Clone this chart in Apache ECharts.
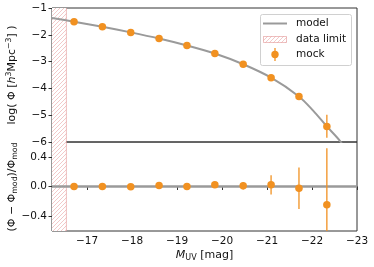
<!DOCTYPE html>
<html><head><meta charset="utf-8">
<script src="https://cdn.jsdelivr.net/npm/echarts@6/dist/echarts.min.js"></script>
<style>html,body{margin:0;padding:0;background:#fff}#c{width:374px;height:267px}</style>
</head><body><div id="c"></div>
<script>
// ---- data ----
const mags      = [-16.71,-17.34,-17.97,-18.60,-19.22,-19.84,-20.47,-21.09,-21.71,-22.33];
const logPhi    = [-1.51,-1.70,-1.91,-2.14,-2.40,-2.70,-3.10,-3.60,-4.30,-5.42];
const logErrLo  = [0.01,0.01,0.01,0.01,0.01,0.01,0.02,0.05,0.12,0.42];
const logErrHi  = [0.01,0.01,0.01,0.01,0.01,0.01,0.02,0.05,0.12,0.44];
const resid     = [0.0,0.0,-0.005,0.013,0.0,0.025,0.01,0.023,-0.023,-0.245];
const residErr  = [0.005,0.005,0.005,0.006,0.008,0.015,0.05,0.13,0.28,0.76];
const modelM    = [-16.22,-16.71,-17.34,-17.97,-18.60,-19.22,-19.84,-20.47,-21.09,-21.71,-22.02,-22.33,-22.64,-22.8];
const modelLog  = [-1.37,-1.51,-1.70,-1.91,-2.14,-2.40,-2.70,-3.10,-3.60,-4.30,-4.82,-5.42,-6.0,-6.5];
const dataLimit = -16.54;
const xTicks    = [-17,-18,-19,-20,-21,-22,-23];
const yTopTicks = [-1,-2,-3,-4,-5,-6];
const yBotTicks = [-0.4,0,0.4];
const xRange    = [-23,-16.22];

const ORANGE = '#f19121';
const GRAY = '#9a9a9a';
const AX = '#333';
const FONT = 'DejaVu Sans';
const fmtInt = v => (v<0?'\u2212':'')+Math.abs(v);
const fmt1 = v => (v<0?'\u2212':'')+Math.abs(v).toFixed(1);

// hatch pattern
function makeHatch(){
  const c=document.createElement('canvas'); const s=4; c.width=s; c.height=s;
  const g=c.getContext('2d');
  g.fillStyle='#fff'; g.fillRect(0,0,s,s);
  g.strokeStyle='rgba(222,120,120,0.5)'; g.lineWidth=0.8;
  for(let k=-1;k<=1;k++){g.beginPath();g.moveTo(k*s,s);g.lineTo(k*s+s,0);g.stroke();}
  return {image:c, repeat:'repeat'};
}
const hatch = makeHatch();
const EDGE = 'rgba(222,130,130,0.5)';

function hatchSeries(xi, yi){
  return {type:'custom', xAxisIndex:xi, yAxisIndex:yi, z:1, silent:true,
    data:[[xRange[1], dataLimit]],
    renderItem:(p,api)=>{
      const cs=p.coordSys;
      const x0=api.coord([api.value(0),0])[0], x1=api.coord([api.value(1),0])[0];
      return {type:'group',children:[
        {type:'rect',shape:{x:x0,y:cs.y,width:x1-x0,height:cs.height},style:{fill:hatch}},
        {type:'line',shape:{x1:x1,y1:cs.y,x2:x1,y2:cs.y+cs.height},style:{stroke:EDGE,lineWidth:1}}
      ]};
    }};
}
function errSeries(xi, yi, ys, lo, hi){
  return {type:'custom', xAxisIndex:xi, yAxisIndex:yi, z:4, silent:true,
    data: mags.map((m,i)=>[m, ys[i], lo[i], hi[i]]),
    renderItem:(p,api)=>{
      const cs=p.coordSys;
      const x=api.value(0), y=api.value(1);
      const a=api.coord([x,y-api.value(2)]), b=api.coord([x,y+api.value(3)]);
      const clamp=v=>Math.max(cs.y,Math.min(cs.y+cs.height,v));
      return {type:'line',shape:{x1:a[0],y1:clamp(a[1]),x2:b[0],y2:clamp(b[1])},style:{stroke:ORANGE,lineWidth:1.3}};
    }};
}

const chart = echarts.init(document.getElementById('c'), null, {renderer:'canvas'});
const common = {fontFamily:FONT, fontSize:10.5, color:'#111'};
chart.setOption({
  animation:false,
  textStyle:{fontFamily:FONT},
  grid:[
    {left:52, top:8, width:305, height:134, show:true, borderColor:AX, borderWidth:1, backgroundColor:'transparent'},
    {left:52, top:142, width:305, height:89, show:true, borderColor:AX, borderWidth:1, backgroundColor:'transparent'}
  ],
  xAxis:[
    {type:'value', gridIndex:0, inverse:true, min:xRange[0], max:xRange[1],
     axisLine:{show:false}, axisTick:{show:false}, axisLabel:{show:false}, splitLine:{show:false}},
    {type:'value', gridIndex:1, inverse:true, min:xRange[0], max:xRange[1],
     axisLine:{show:false}, splitLine:{show:false},
     axisTick:{show:true, customValues:xTicks, length:3.5, lineStyle:{color:AX}},
     axisLabel:{customValues:xTicks, formatter:fmtInt, margin:5, ...common}}
  ],
  yAxis:[
    {type:'value', gridIndex:0, min:-6, max:-1, interval:1,
     axisLine:{show:false}, splitLine:{show:false},
     axisTick:{show:true, customValues:yTopTicks, length:3.5, lineStyle:{color:AX}},
     axisLabel:{customValues:yTopTicks, formatter:fmtInt, margin:5, ...common}},
    {type:'value', gridIndex:1, min:-0.6, max:0.6,
     axisLine:{show:false}, splitLine:{show:false},
     axisTick:{show:true, customValues:yBotTicks, length:3.5, lineStyle:{color:AX}},
     axisLabel:{customValues:yBotTicks, formatter:fmt1, margin:5, ...common}}
  ],
  series:[
    hatchSeries(0,0), hatchSeries(1,1),
    {type:'line', xAxisIndex:0, yAxisIndex:0, z:3, data:modelM.map((m,i)=>[m,modelLog[i]]),
     showSymbol:false, smooth:0.3, clip:true, lineStyle:{color:GRAY,width:2}},
    {type:'line', xAxisIndex:1, yAxisIndex:1, z:3, data:[[xRange[1],0],[xRange[0],0]],
     showSymbol:false, lineStyle:{color:GRAY,width:2.5}},
    errSeries(0,0,logPhi,logErrLo,logErrHi),
    errSeries(1,1,resid,residErr,residErr),
    {type:'scatter', xAxisIndex:0, yAxisIndex:0, z:5, symbolSize:7.5, itemStyle:{color:ORANGE,opacity:1},
     data:mags.map((m,i)=>[m,logPhi[i]])},
    {type:'scatter', xAxisIndex:1, yAxisIndex:1, z:5, symbolSize:7.5, itemStyle:{color:ORANGE,opacity:1},
     data:mags.map((m,i)=>[m,resid[i]])}
  ],
  graphic:[
    // legend
    {type:'rect', shape:{x:260.5,y:14.5,width:91,height:51,r:2}, style:{fill:'rgba(255,255,255,0.8)',stroke:'#d0d0d0',lineWidth:1}, z:10},
    {type:'line', shape:{x1:263,y1:23.5,x2:287,y2:23.5}, style:{stroke:GRAY,lineWidth:2}, z:11},
    {type:'text', x:296, y:23.5, style:{text:'model', font:'10.5px "DejaVu Sans"', fill:'#111', verticalAlign:'middle'}, z:11},
    {type:'rect', shape:{x:263.5,y:36.5,width:23,height:6}, style:{fill:hatch, stroke:EDGE, lineWidth:1}, z:11},
    {type:'text', x:296, y:39.5, style:{text:'data limit', font:'10.5px "DejaVu Sans"', fill:'#111', verticalAlign:'middle'}, z:11},
    {type:'line', shape:{x1:275,y1:48,x2:275,y2:61}, style:{stroke:ORANGE,lineWidth:1.3}, z:11},
    {type:'circle', shape:{cx:275,cy:54.5,r:3.7}, style:{fill:ORANGE}, z:12},
    {type:'text', x:296, y:54.5, style:{text:'mock', font:'10.5px "DejaVu Sans"', fill:'#111', verticalAlign:'middle'}, z:11},
    // axis titles
    {type:'text', x:12, y:75, rotation:Math.PI/2, z:11,
     style:{text:'log( Φ [{i|h}{sup|3}Mpc{sup|−3}] )', font:'11px "DejaVu Sans"', fill:'#111', align:'center', verticalAlign:'middle',
       rich:{i:{fontStyle:'italic',fontSize:11,fontFamily:FONT,lineHeight:14},sup:{fontSize:7.8,fontFamily:FONT,verticalAlign:'top',lineHeight:14}}}},
    {type:'text', x:12, y:187, rotation:Math.PI/2, z:11,
     style:{text:'(Φ − Φ{sub|mod})/Φ{sub|mod}', font:'11px "DejaVu Sans"', fill:'#111', align:'center', verticalAlign:'middle',
       rich:{sub:{fontSize:7.8,fontFamily:FONT,verticalAlign:'bottom',lineHeight:14}}}},
    {type:'text', x:204.5, y:255, z:11,
     style:{text:'{i|M}{sub|UV} [mag]', font:'11px "DejaVu Sans"', fill:'#111', align:'center', verticalAlign:'middle',
       rich:{i:{fontStyle:'italic',fontSize:11,fontFamily:FONT,lineHeight:14},sub:{fontSize:8,fontFamily:FONT,verticalAlign:'bottom',lineHeight:14}}}}
  ]
});
</script></body></html>
